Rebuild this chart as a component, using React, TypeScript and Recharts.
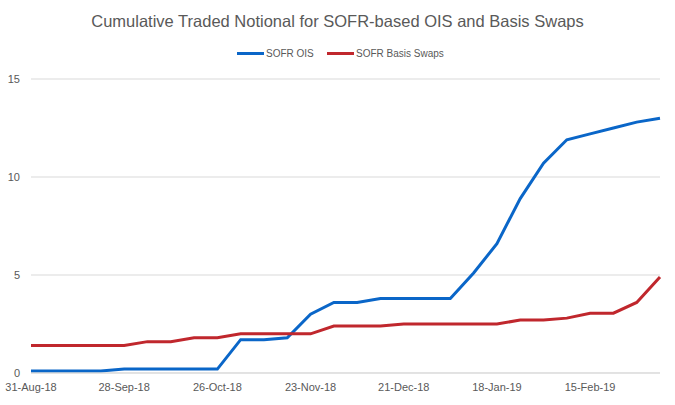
import { LineChart, Line, XAxis, YAxis, CartesianGrid } from "recharts"

// weekly dates
const dates = [
  "31-Aug-18", "7-Sep-18", "14-Sep-18", "21-Sep-18", "28-Sep-18", "5-Oct-18", "12-Oct-18",
  "19-Oct-18", "26-Oct-18", "2-Nov-18", "9-Nov-18", "16-Nov-18", "23-Nov-18", "30-Nov-18",
  "7-Dec-18", "14-Dec-18", "21-Dec-18", "28-Dec-18", "4-Jan-19", "11-Jan-19", "18-Jan-19",
  "25-Jan-19", "1-Feb-19", "8-Feb-19", "15-Feb-19", "22-Feb-19", "1-Mar-19", "8-Mar-19",
]

const sofrOis = [
  0.1, 0.1, 0.1, 0.1, 0.2, 0.2, 0.2, 0.2, 0.2, 1.7, 1.7, 1.8, 3.0, 3.6,
  3.6, 3.8, 3.8, 3.8, 3.8, 5.1, 6.6, 8.9, 10.7, 11.9, 12.2, 12.5, 12.8, 13.0,
]

const sofrBasis = [
  1.4, 1.4, 1.4, 1.4, 1.4, 1.6, 1.6, 1.8, 1.8, 2.0, 2.0, 2.0, 2.0, 2.4,
  2.4, 2.4, 2.5, 2.5, 2.5, 2.5, 2.5, 2.7, 2.7, 2.8, 3.05, 3.05, 3.6, 4.9,
]

const yTicks = [0, 5, 10, 15]

const BLUE = "#0A66C8"
const RED = "#C0272D"
const TEXT = "#595959"
const FONT = "'Liberation Sans', Arial, sans-serif"

const data = dates.map((d, i) => ({ date: d, ois: sofrOis[i], basis: sofrBasis[i] }))

const legendItems = [
  { label: "SOFR OIS", color: BLUE, left: 237 },
  { label: "SOFR Basis Swaps", color: RED, left: 327 },
]

export default function App() {
  return (
    <div style={{ position: "absolute", left: 0, top: 0, width: 675, height: 405, background: "#fff" }}>
      <div
        style={{
          position: "absolute",
          top: 12,
          width: 675,
          textAlign: "center",
          fontFamily: FONT,
          fontSize: 16.5,
          color: TEXT,
        }}
      >
        Cumulative Traded Notional for SOFR-based OIS and Basis Swaps
      </div>
      {legendItems.map((it) => (
        <div
          key={it.label}
          style={{
            position: "absolute",
            top: 48,
            left: it.left,
            display: "flex",
            alignItems: "center",
            fontFamily: FONT,
            fontSize: 10,
            color: TEXT,
            whiteSpace: "nowrap",
          }}
        >
          <span style={{ display: "inline-block", width: 27, height: 3, background: it.color, marginRight: 2 }} />
          {it.label}
        </div>
      ))}
      <LineChart width={675} height={405} data={data} margin={{ top: 79, right: 15, left: 0, bottom: 2 }}>
        <CartesianGrid vertical={false} stroke="#d9d9d9" />
        <XAxis
          dataKey="date"
          interval={3}
          tickLine={false}
          axisLine={{ stroke: "#d9d9d9" }}
          tick={{ fill: TEXT, fontSize: 11, fontFamily: FONT }}
          tickMargin={4}
        />
        <YAxis
          width={31}
          domain={[0, 15]}
          ticks={yTicks}
          axisLine={false}
          tickLine={false}
          tickMargin={5}
          tick={{ fill: TEXT, fontSize: 11, fontFamily: FONT }}
        />
        <Line dataKey="ois" name="SOFR OIS" stroke={BLUE} strokeWidth={3} dot={false} isAnimationActive={false} />
        <Line dataKey="basis" name="SOFR Basis Swaps" stroke={RED} strokeWidth={3} dot={false} isAnimationActive={false} />
      </LineChart>
    </div>
  )
}
